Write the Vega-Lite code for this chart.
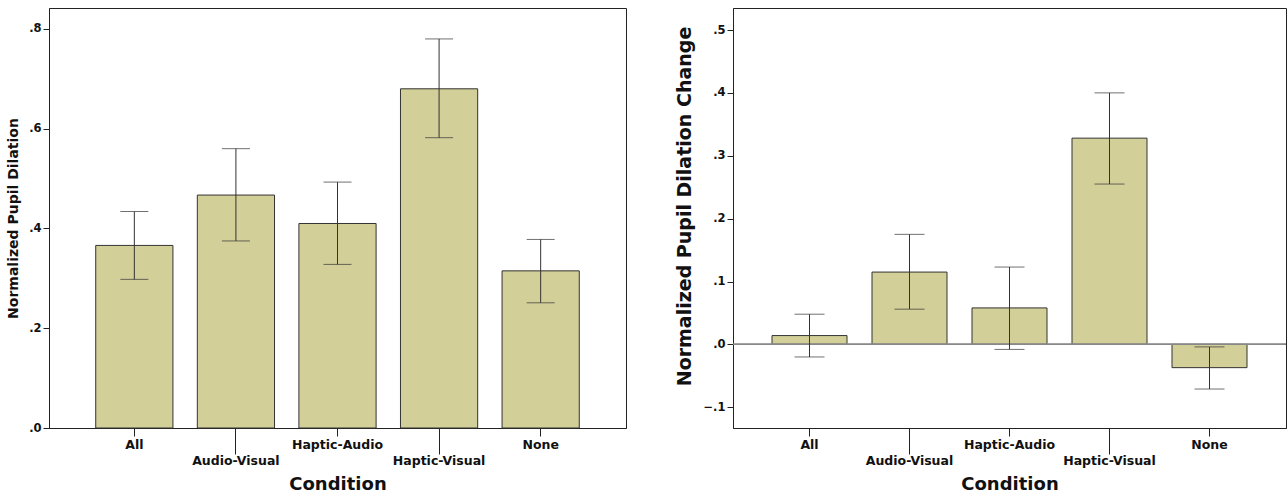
{
  "$schema": "https://vega.github.io/schema/vega-lite/v6.json",
  "padding": {"left": 6, "top": 7, "right": 2, "bottom": 0},
  "background": "white",
  "datasets": {
    "left": [
      {"Condition": "All", "mean": 0.366, "lo": 0.298, "hi": 0.434},
      {"Condition": "Audio-Visual", "mean": 0.467, "lo": 0.375, "hi": 0.560},
      {"Condition": "Haptic-Audio", "mean": 0.410, "lo": 0.328, "hi": 0.493},
      {"Condition": "Haptic-Visual", "mean": 0.680, "lo": 0.582, "hi": 0.780},
      {"Condition": "None", "mean": 0.315, "lo": 0.251, "hi": 0.378}
    ],
    "right": [
      {"Condition": "All", "mean": 0.014, "lo": -0.020, "hi": 0.048},
      {"Condition": "Audio-Visual", "mean": 0.115, "lo": 0.056, "hi": 0.175},
      {"Condition": "Haptic-Audio", "mean": 0.058, "lo": -0.008, "hi": 0.123},
      {"Condition": "Haptic-Visual", "mean": 0.328, "lo": 0.255, "hi": 0.400},
      {"Condition": "None", "mean": -0.037, "lo": -0.071, "hi": -0.004}
    ]
  },
  "config": {
    "font": "DejaVu Sans",
    "view": {"stroke": "#222", "strokeWidth": 1},
    "axis": {
      "labelFont": "DejaVu Sans",
      "labelFontWeight": "bold",
      "labelFontSize": 11.5,
      "labelColor": "#111",
      "titleFont": "DejaVu Sans",
      "titleFontWeight": "bold",
      "titleColor": "#111",
      "domainColor": "#222",
      "tickColor": "#222",
      "grid": false
    }
  },
  "hconcat": [
    {
      "width": 577,
      "height": 420,
      "data": {"name": "left"},
      "layer": [
        {
          "mark": {"type": "bar", "color": "#d3cf99", "stroke": "#333", "strokeWidth": 1},
          "encoding": {
            "x": {
              "field": "Condition", "type": "nominal", "sort": null,
              "scale": {"paddingInner": 0.24, "paddingOuter": 0.46},
              "axis": {
                "labelAngle": 0,
                "labelFontSize": 12.5,
                "title": "Condition",
                "titleFontSize": 18,
                "titlePadding": 9,
                "tickSize": {"condition": {"test": "indexof(['Audio-Visual','Haptic-Visual'], datum.value) >= 0", "value": 26}, "value": 8},
                "labelPadding": {"condition": {"test": "indexof(['Audio-Visual','Haptic-Visual'], datum.value) >= 0", "value": 0}, "value": 2}
              }
            },
            "y": {
              "field": "mean", "type": "quantitative",
              "scale": {"domain": [0, 0.842], "nice": false, "zero": false},
              "title": "Normalized Pupil Dilation",
              "axis": {
                "titleFontSize": 14,
                "titlePadding": 8,
                "values": [0, 0.2, 0.4, 0.6, 0.8],
                "labelExpr": "replace(format(datum.value, '.1f'), '0.', '.')",
                "tickSize": 6
              }
            }
          }
        },
        {
          "mark": {"type": "errorbar", "color": "#333", "ticks": {"size": 28, "color": "#333"}, "rule": {"strokeWidth": 1}},
          "encoding": {
            "x": {"field": "Condition", "type": "nominal", "sort": null},
            "y": {"field": "lo", "type": "quantitative", "title": "Normalized Pupil Dilation"},
            "y2": {"field": "hi"}
          }
        }
      ]
    },
    {
      "width": 553,
      "height": 420,
      "data": {"name": "right"},
      "layer": [
        {
          "mark": {"type": "bar", "color": "#d3cf99", "stroke": "#333", "strokeWidth": 1},
          "encoding": {
            "x": {
              "field": "Condition", "type": "nominal", "sort": null,
              "scale": {"paddingInner": 0.25, "paddingOuter": 0.39},
              "axis": {
                "labelAngle": 0,
                "labelFontSize": 12.5,
                "title": "Condition",
                "titleFontSize": 18,
                "titlePadding": 9,
                "tickSize": {"condition": {"test": "indexof(['Audio-Visual','Haptic-Visual'], datum.value) >= 0", "value": 26}, "value": 8},
                "labelPadding": {"condition": {"test": "indexof(['Audio-Visual','Haptic-Visual'], datum.value) >= 0", "value": 0}, "value": 2}
              }
            },
            "y": {
              "field": "mean", "type": "quantitative",
              "scale": {"domain": [-0.133, 0.535], "nice": false, "zero": false},
              "title": "Normalized Pupil Dilation Change",
              "axis": {
                "titleFontSize": 19,
                "titlePadding": 8,
                "titleY": 198,
                "values": [-0.1, 0, 0.1, 0.2, 0.3, 0.4, 0.5],
                "labelExpr": "replace(format(datum.value, '.1f'), '0.', '.')",
                "tickSize": 6
              }
            }
          }
        },
        {
          "mark": {"type": "rule", "color": "#888", "strokeWidth": 1.2},
          "encoding": {"y": {"datum": 0, "type": "quantitative"}}
        },
        {
          "mark": {"type": "errorbar", "color": "#333", "ticks": {"size": 30, "color": "#333"}, "rule": {"strokeWidth": 1}},
          "encoding": {
            "x": {"field": "Condition", "type": "nominal", "sort": null},
            "y": {"field": "lo", "type": "quantitative", "title": "Normalized Pupil Dilation Change"},
            "y2": {"field": "hi"}
          }
        }
      ]
    }
  ],
  "spacing": 48
}
